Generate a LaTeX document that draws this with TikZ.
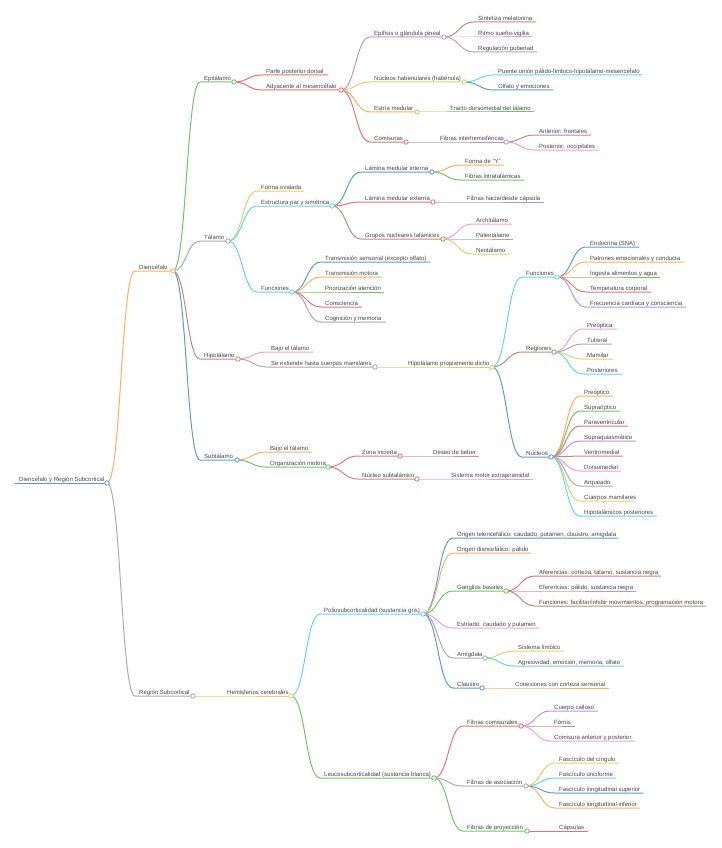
\documentclass[tikz,border=0pt]{standalone}
\usepackage{fontspec}
\setmainfont{Liberation Sans}
\usetikzlibrary{calc}
\definecolor{cblue}{RGB}{91,155,213}
\definecolor{corange}{RGB}{255,172,95}
\definecolor{cgreen}{RGB}{112,196,104}
\definecolor{cred}{RGB}{236,112,112}
\definecolor{cpurple}{RGB}{182,150,222}
\definecolor{cbrown}{RGB}{186,140,126}
\definecolor{cpink}{RGB}{240,160,215}
\definecolor{cgray}{RGB}{170,170,170}
\definecolor{colive}{RGB}{214,214,108}
\definecolor{ccyan}{RGB}{98,214,230}
\definecolor{txt}{RGB}{68,68,68}
\tikzset{
  mmline/.style={draw=#1, line width=1pt},
  mmdot/.style={circle, draw=#1, fill=white, inner sep=0pt, minimum size=4.4pt, line width=0.9pt},
  mmtext/.style={inner sep=0pt, anchor=base west, text=txt, font=\fontsize{6}{7}\selectfont},
  link/.style={to path={let \p1=(\tikztostart), \p2=(\tikztotarget) in
     .. controls ({0.5*\x1+0.5*\x2},\y1) and ({0.5*\x1+0.5*\x2},\y2) .. (\tikztotarget)}}
}
% name, parent, xs, xe, y, colour, text
\newcommand\mmnode[7]{%
  \coordinate (#1-s) at (#3,#5);
  \coordinate (#1-e) at (#4,#5);
  \draw[mmline=#6] (#2-e) to[link] (#1-s) -- (#1-e);
  \node[mmtext] (#1) at ($(#1-s)+(4,-1.5)$) {#7};}
\newcommand\mmdotat[2]{\node[mmdot=#2] (#1-dot) at (#1-e) {};}
\begin{document}
\begin{tikzpicture}[x=1pt,y=-1pt]
\useasboundingbox (0,0) rectangle (721,848);
% root
\coordinate (root-s) at (15,483);
\coordinate (root-e) at (107,483);
\draw[mmline=cblue] (root-s) -- (root-e);
\node[mmtext] (root) at ($(root-s)+(4,-1.5)$) {Diencéfalo y Región Subcortical};

\mmnode{dien}{root}{135}{173}{271}{corange}{Diencéfalo}
% Epitalamo
\mmnode{epi}{dien}{200}{234}{82}{cgreen}{Epitálamo}
\mmnode{ppd}{epi}{262}{328}{75}{cred}{Parte posterior dorsal}
\mmnode{ady}{epi}{262}{341}{90}{cred}{Adyacente al mesencéfalo}
\mmnode{pin}{ady}{370}{444}{37}{cpurple}{Epífisis o glándula pineal}
\mmnode{mel}{pin}{474}{536}{22}{cbrown}{Sintetiza melatonina}
\mmnode{rit}{pin}{474}{532}{37}{cpink}{Ritmo sueño-vigilia}
\mmnode{pub}{pin}{474}{537}{52}{cgray}{Regulación pubertad}
\mmnode{hab}{ady}{370}{464}{82}{colive}{Núcleos habenulares (habénula)}
\mmnode{pue}{hab}{494}{642}{75}{ccyan}{Puente unión pálido-límbico-hipotálamo-mesencéfalo}
\mmnode{olf}{hab}{494}{553}{90}{cblue}{Olfato y emociones}
\mmnode{est}{ady}{370}{417}{112}{corange}{Estría medular}
\mmnode{tra}{est}{446}{534}{112}{cgreen}{Tracto dorsomedial del tálamo}
\mmnode{com}{ady}{370}{406}{142}{cred}{Comisuras}
\mmnode{fib}{com}{436}{506}{142}{cpurple}{Fibras interhemisféricas}
\mmnode{ant}{fib}{535}{591}{135}{cbrown}{Anterior: frontales}
\mmnode{pos}{fib}{535}{599}{150}{cpink}{Posterior: occipitales}
% Talamo
\mmnode{tal}{dien}{200}{228}{241}{cgray}{Tálamo}
\mmnode{ova}{tal}{257}{304}{191}{colive}{Forma ovalada}
\mmnode{epa}{tal}{257}{332}{206}{ccyan}{Estructura par y simétrica}
\mmnode{lmi}{epa}{361}{432}{172}{cblue}{Lámina medular interna}
\mmnode{fy}{lmi}{461}{504}{165}{corange}{Forma de "Y"}
\mmnode{fit}{lmi}{461}{524}{180}{cgreen}{Fibras intratalámicas}
\mmnode{lme}{epa}{361}{433}{202}{cred}{Lámina medular externa}
\mmnode{fhd}{lme}{463}{544}{202}{cpurple}{Fibras hacia/desde cápsula}
\mmnode{gnt}{epa}{361}{443}{239}{cbrown}{Grupos nucleares talámicos}
\mmnode{arc}{gnt}{472}{512}{224}{cpink}{Architálamo}
\mmnode{pal}{gnt}{472}{513}{239}{cgray}{Paleotálamo}
\mmnode{neo}{gnt}{472}{509}{254}{colive}{Neotálamo}
\mmnode{fun}{tal}{257}{292}{292}{ccyan}{Funciones}
\mmnode{ts}{fun}{321}{430}{262}{cblue}{Transmisión sensorial (excepto olfato)}
\mmnode{tm}{fun}{321}{382}{277}{corange}{Transmisión motora}
\mmnode{pa}{fun}{321}{384}{292}{cgreen}{Priorización atención}
\mmnode{con}{fun}{321}{362}{307}{cred}{Consciencia}
\mmnode{cog}{fun}{321}{386}{322}{cpurple}{Cognición y memoria}
% Hipotalamo
\mmnode{hip}{dien}{200}{238}{359}{cbrown}{Hipotálamo}
\mmnode{bta}{hip}{267}{313}{352}{cpink}{Bajo el tálamo}
\mmnode{seh}{hip}{267}{375}{367}{cgray}{Se extiende hasta cuerpos mamilares}
\mmnode{hpd}{seh}{404}{492}{367}{colive}{Hipotálamo propiamente dicho}
\mmnode{hfu}{hpd}{522}{557}{277}{ccyan}{Funciones}
\mmnode{endo}{hfu}{586}{639}{247}{cblue}{Endocrina (SNA)}
\mmnode{pat}{hfu}{586}{684}{262}{corange}{Patrones emocionales y conducta}
\mmnode{ing}{hfu}{586}{660}{277}{cgreen}{Ingesta alimentos y agua}
\mmnode{tem}{hfu}{586}{651}{292}{cred}{Temperatura corporal}
\mmnode{fre}{hfu}{586}{686}{307}{cpurple}{Frecuencia cardíaca y consciencia}
\mmnode{hre}{hpd}{522}{554}{352}{cbrown}{Regiones}
\mmnode{pre}{hre}{583}{617}{329}{cpink}{Preóptica}
\mmnode{tub}{hre}{583}{612}{344}{cgray}{Tuberal}
\mmnode{mam}{hre}{583}{613}{359}{colive}{Mamilar}
\mmnode{pst}{hre}{583}{622}{374}{ccyan}{Posteriores}
\mmnode{hnu}{hpd}{522}{551}{457}{cblue}{Núcleos}
\mmnode{nua}{hnu}{580}{613}{396}{corange}{Preóptico}
\mmnode{nub}{hnu}{580}{620}{411}{cgreen}{Supraóptico}
\mmnode{nuc}{hnu}{580}{628}{426}{cred}{Paraventricular}
\mmnode{nud}{hnu}{580}{636}{441}{cpurple}{Supraquiasmático}
\mmnode{nue}{hnu}{580}{623}{456}{cbrown}{Ventromedial}
\mmnode{nuf}{hnu}{580}{621}{471}{cpink}{Dorsomedial}
\mmnode{nug}{hnu}{580}{613}{486}{cgray}{Arqueado}
\mmnode{nuh}{hnu}{580}{635}{501}{colive}{Cuerpos mamilares}
\mmnode{nui}{hnu}{580}{657}{516}{ccyan}{Hipotalámicos posteriores}
% Subtalamo
\mmnode{sub}{dien}{200}{237}{460}{cblue}{Subtálamo}
\mmnode{btb}{sub}{266}{312}{452}{corange}{Bajo el tálamo}
\mmnode{org}{sub}{266}{328}{467}{cgreen}{Organización motora}
\mmnode{zon}{org}{358}{400}{456}{cred}{Zona incierta}
\mmnode{des}{zon}{429}{479}{456}{cpurple}{Deseo de beber}
\mmnode{nst}{org}{358}{417}{479}{cbrown}{Núcleo subtalámico}
\mmnode{sme}{nst}{447}{533}{479}{cpink}{Sistema motor extrapiramidal}
% Region subcortical
\mmnode{reg}{root}{135}{193}{696}{cgray}{Región Subcortical}
\mmnode{hem}{reg}{223}{291}{696}{colive}{Hemisferios cerebrales}
\mmnode{pol}{hem}{320}{423}{614}{ccyan}{Poliosubcorticalidad (sustancia gris)}
\mmnode{ot}{pol}{453}{618}{538}{cblue}{Origen telencefálico: caudado, putamen, claustro, amígdala}
\mmnode{od}{pol}{453}{531}{553}{corange}{Origen diencefálico: pálido}
\mmnode{gb}{pol}{453}{506}{591}{cgreen}{Ganglios basales}
\mmnode{af}{gb}{535}{661}{576}{cred}{Aferencias: corteza, tálamo, sustancia negra}
\mmnode{ef}{gb}{535}{636}{591}{cpurple}{Eferencias: pálido, sustancia negra}
\mmnode{fu}{gb}{535}{706}{606}{cbrown}{Funciones: facilitar/inhibir movimientos, programación motora}
\mmnode{es}{pol}{453}{539}{628}{cpink}{Estriado: caudado y putamen}
\mmnode{am}{pol}{453}{485}{658}{cgray}{Amígdala}
\mmnode{sl}{am}{514}{564}{651}{colive}{Sistema límbico}
\mmnode{ag}{am}{514}{624}{666}{ccyan}{Agresividad, emoción, memoria, olfato}
\mmnode{cl}{pol}{453}{482}{688}{cblue}{Claustro}
\mmnode{cc}{cl}{511}{609}{688}{corange}{Conexiones con corteza sensorial}
\mmnode{leu}{hem}{320}{434}{778}{cgreen}{Leucosubcorticalidad (sustancia blanca)}
\mmnode{fc}{leu}{463}{521}{726}{cred}{Fibras comisurales}
\mmnode{cca}{fc}{550}{598}{711}{cpurple}{Cuerpo calloso}
\mmnode{forn}{fc}{550}{575}{726}{cbrown}{Fórnix}
\mmnode{cap}{fc}{550}{635}{741}{cpink}{Comisura anterior y posterior}
\mmnode{fa}{leu}{463}{526}{786}{cgray}{Fibras de asociación}
\mmnode{fci}{fa}{555}{619}{763}{colive}{Fascículo del cíngulo}
\mmnode{unc}{fa}{555}{616}{778}{ccyan}{Fascículo unciforme}
\mmnode{fls}{fa}{555}{643}{793}{cblue}{Fascículo longitudinal superior}
\mmnode{fli}{fa}{555}{640}{808}{corange}{Fascículo longitudinal inferior}
\mmnode{fp}{leu}{463}{527}{831}{cgreen}{Fibras de proyección}
\mmnode{cps}{fp}{555}{588}{831}{cred}{Cápsulas}
% dots on branching nodes
\mmdotat{root}{cblue}
\mmdotat{dien}{corange}
\mmdotat{epi}{cgreen}
\mmdotat{ady}{cred}
\mmdotat{pin}{cpurple}
\mmdotat{hab}{colive}
\mmdotat{est}{corange}
\mmdotat{com}{cred}
\mmdotat{fib}{cpurple}
\mmdotat{tal}{cgray}
\mmdotat{epa}{ccyan}
\mmdotat{lmi}{cblue}
\mmdotat{lme}{cred}
\mmdotat{gnt}{cbrown}
\mmdotat{fun}{ccyan}
\mmdotat{hip}{cbrown}
\mmdotat{seh}{cgray}
\mmdotat{hpd}{colive}
\mmdotat{hfu}{ccyan}
\mmdotat{hre}{cbrown}
\mmdotat{hnu}{cblue}
\mmdotat{sub}{cblue}
\mmdotat{org}{cgreen}
\mmdotat{zon}{cred}
\mmdotat{nst}{cbrown}
\mmdotat{reg}{cgray}
\mmdotat{hem}{colive}
\mmdotat{pol}{ccyan}
\mmdotat{gb}{cgreen}
\mmdotat{am}{cgray}
\mmdotat{cl}{cblue}
\mmdotat{leu}{cgreen}
\mmdotat{fc}{cred}
\mmdotat{fa}{cgray}
\mmdotat{fp}{cgreen}
\end{tikzpicture}
\end{document}
